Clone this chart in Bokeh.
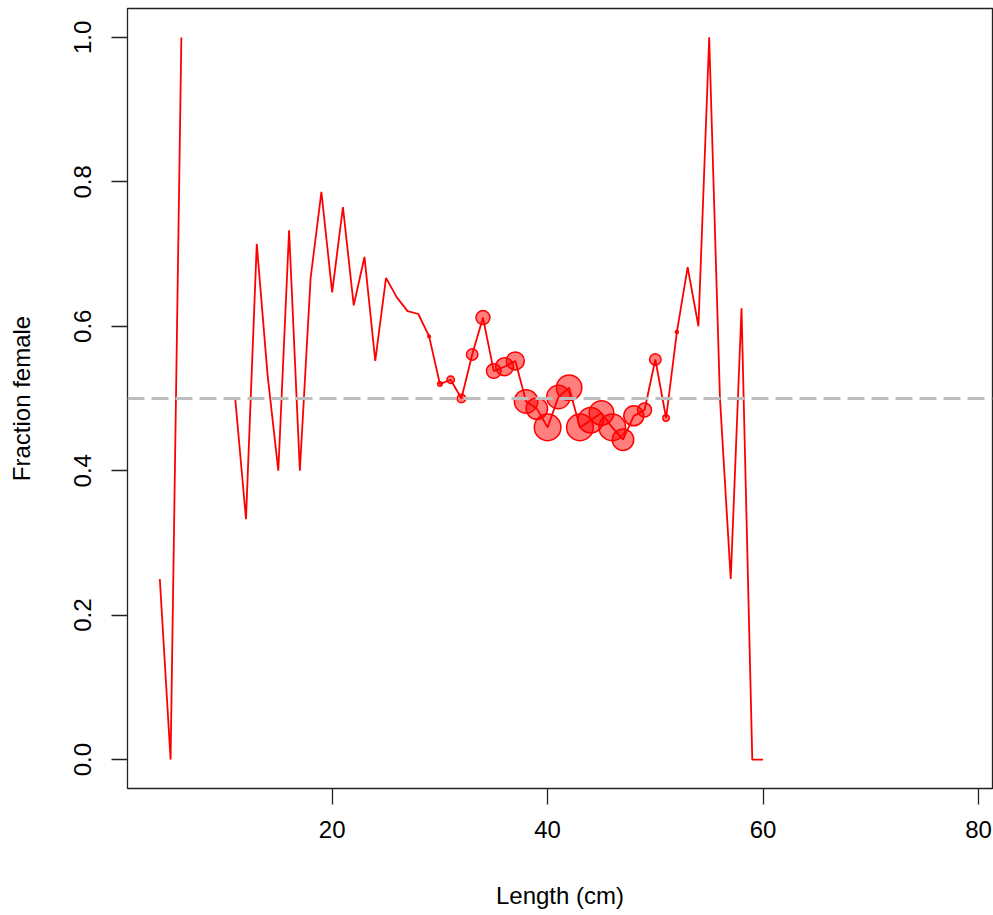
import math
from bokeh.plotting import figure
from bokeh.models import Range1d, FixedTicker, PrintfTickFormatter, Span
from bokeh.embed import file_html
from bokeh.resources import INLINE

# Length bins (cm); fraction female per bin (None = no data)
lengths = list(range(4, 61))
fraction_female = [
    0.25, 0.0, 1.0, None, None, None, None,          # 4-10
    0.5, 0.333, 0.714, 0.533, 0.4, 0.733, 0.4,       # 11-17
    0.667, 0.786, 0.647, 0.765, 0.629, 0.696, 0.552, # 18-24
    0.667, 0.64, 0.621, 0.617, 0.586, 0.52, 0.526,   # 25-31
    0.5, 0.561, 0.612, 0.538, 0.544, 0.552, 0.496,   # 32-38
    0.486, 0.46, 0.502, 0.515, 0.46, 0.47, 0.48,     # 39-45
    0.46, 0.443, 0.476, 0.484, 0.554, 0.473, 0.592,  # 46-52
    0.682, 0.6, 1.0, 0.5, 0.25, 0.625, 0.0, 0.0,     # 53-60
]
# relative sample size per bin (circle area)
sample_size = [
    0, 0, 0, 0, 0, 0, 0,
    0, 0, 0, 0, 0, 0, 0,
    0, 0, 0, 0, 0, 0, 0,
    0, 0, 0, 0, 3, 9, 24,
    33, 58, 87, 95, 144, 144, 243,
    204, 314, 243, 287, 314, 287, 269,
    314, 204, 178, 87, 58, 19, 4,
    0, 0, 0, 0, 0, 0, 0, 0,
]
x_ticks = [20, 40, 60, 80]
y_ticks = [0.0, 0.2, 0.4, 0.6, 0.8, 1.0]
reference_level = 0.5

y_line = [float("nan") if v is None else v for v in fraction_female]

pts_x = [x for x, v, n in zip(lengths, fraction_female, sample_size) if v is not None and n > 0]
pts_y = [v for x, v, n in zip(lengths, fraction_female, sample_size) if v is not None and n > 0]
pts_size = [2 * 0.75 * math.sqrt(n) for v, n in zip(fraction_female, sample_size) if v is not None and n > 0]

FONT = "Liberation Sans"

p = figure(width=993, height=915,
           x_range=Range1d(1.0, 81.3), y_range=Range1d(-0.04, 1.04),
           output_backend="svg", toolbar_location=None,
           min_border_left=127, min_border_right=1,
           min_border_top=8, min_border_bottom=127)
p.background_fill_color = "white"
p.border_fill_color = "white"
p.outline_line_color = "#222222"
p.outline_line_width = 1.3
p.xgrid.visible = False
p.ygrid.visible = False

p.add_layout(Span(location=reference_level, dimension="width",
                  line_color="#BEBEBE", line_width=3, line_dash="17 7"))

p.line(lengths, y_line, line_color="red", line_width=1.8)
p.scatter(pts_x, pts_y, size=pts_size, marker="circle",
          fill_color="red", fill_alpha=0.5, line_color="red", line_width=1.5)

for ax in (p.xaxis[0], p.yaxis[0]):
    ax.axis_line_color = None
    ax.major_tick_in = 0
    ax.major_tick_out = 16
    ax.major_tick_line_color = "#222222"
    ax.major_tick_line_width = 1.3
    ax.minor_tick_line_color = None
    ax.major_label_text_font = FONT
    ax.major_label_text_font_size = "24px"
    ax.major_label_text_color = "black"
    ax.axis_label_text_font = FONT
    ax.axis_label_text_font_size = "24px"
    ax.axis_label_text_font_style = "normal"
    ax.axis_label_text_color = "black"

p.xaxis.ticker = FixedTicker(ticks=x_ticks)
p.yaxis.ticker = FixedTicker(ticks=y_ticks)
p.yaxis.formatter = PrintfTickFormatter(format="%.1f")
p.yaxis.major_label_orientation = "vertical"
p.xaxis.axis_label = "Length (cm)"
p.yaxis.axis_label = "Fraction female"
p.xaxis.major_label_standoff = 16
p.yaxis.major_label_standoff = 20
p.xaxis.axis_label_standoff = 41
p.yaxis.axis_label_standoff = 37

open("out.html", "w").write(file_html(p, INLINE))
